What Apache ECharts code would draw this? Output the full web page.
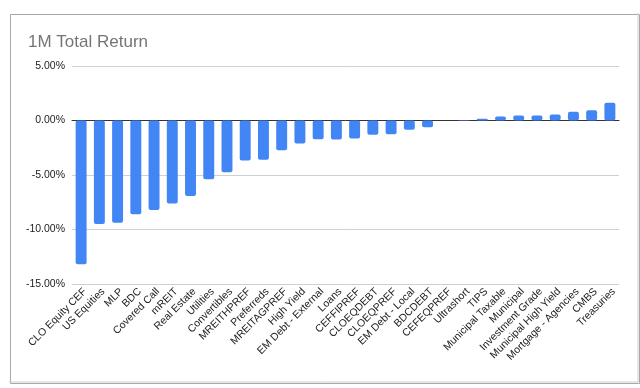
<!DOCTYPE html>
<html>
<head>
<meta charset="utf-8">
<script src="https://cdn.jsdelivr.net/npm/echarts@6/dist/echarts.min.js"></script>
<style>html,body{margin:0;padding:0;background:#fff}#c{width:640px;height:388px}</style>
</head>
<body>
<div id="c"></div>
<script>
const categories = ["CLO Equity CEF","US Equities","MLP","BDC","Covered Call","mREIT","Real Estate","Utilities","Convertibles","MREITHPREF","Preferreds","MREITAGPREF","High Yield","EM Debt - External","Loans","CEFFIPREF","CLOEQDEBT","CLOEQPREF","EM Debt - Local","BDCDEBT","CEFEQPREF","Ultrashort","TIPS","Municipal Taxable","Municipal","Investment Grade","Municipal High Yield","Mortgage - Agencies","CMBS","Treasuries"];
const totalReturn = [-13.18,-9.49,-9.39,-8.6,-8.2,-7.62,-6.92,-5.39,-4.75,-3.68,-3.6,-2.72,-2.1,-1.72,-1.74,-1.65,-1.31,-1.25,-0.86,-0.61,-0.01,0.05,0.15,0.37,0.46,0.46,0.55,0.8,0.95,1.62];
const yTicks = [-15,-10,-5,0,5];

const chart = echarts.init(document.getElementById('c'), null, {renderer:'canvas'});
chart.setOption({
  animation:false,
  backgroundColor:'#fff',
  graphic:[
    {type:'rect',left:8,top:12,shape:{width:629,height:369},style:{fill:'none',stroke:'#a8a8a8',lineWidth:1}},
    {type:'line',shape:{x1:638,y1:13,x2:638,y2:382},style:{stroke:'#d0d0d0',lineWidth:1}},
    {type:'line',shape:{x1:9,y1:382,x2:638,y2:382},style:{stroke:'#d0d0d0',lineWidth:1}}
  ],
  title:{text:'1M Total Return',left:23,top:29,textStyle:{fontFamily:'Liberation Sans, Arial',fontSize:17,fontWeight:'normal',color:'#757575'}},
  grid:{left:72,right:21,top:66,bottom:104,containLabel:false},
  xAxis:{type:'category',data:categories,
    axisLine:{onZero:true,lineStyle:{color:'#333',width:1}},
    axisTick:{show:false},
    axisLabel:{interval:0,rotate:45,margin:2,verticalAlign:'top',fontFamily:'Liberation Sans, Arial',fontSize:10.5,color:'#222'}},
  yAxis:{type:'value',min:yTicks[0],max:yTicks[yTicks.length-1],interval:5,
    axisLine:{show:false},axisTick:{show:false},
    splitLine:{lineStyle:{color:'#d0d0d0',width:1}},
    axisLabel:{margin:7,fontFamily:'Liberation Sans, Arial',fontSize:10.5,color:'#222',formatter:v=>v.toFixed(2)+'%'}},
  series:[{type:'bar',data:totalReturn,barCategoryGap:'40%',
    itemStyle:{color:'#4285F4',borderRadius:2}}]
});
</script>
</body>
</html>
